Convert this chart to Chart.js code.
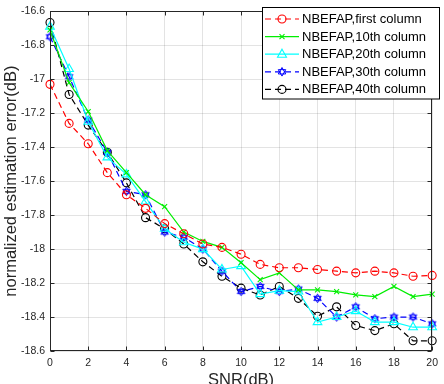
<!DOCTYPE html>
<html><head><meta charset="utf-8">
<script src="https://cdn.jsdelivr.net/npm/chart.js@4/dist/chart.umd.min.js"></script>
<style>html,body{margin:0;padding:0;background:#fff;}#wrap{width:444px;height:384px;}</style>
</head><body><div id="wrap"><canvas id="c" width="444" height="384"></canvas></div>
<script>
const snr = [0,1,2,3,4,5,6,7,8,9,10,11,12,13,14,15,16,17,18,19,20];
const xTicks = [0,2,4,6,8,10,12,14,16,18,20];
const yTicks = [-18.6,-18.4,-18.2,-18,-17.8,-17.6,-17.4,-17.2,-17,-16.8,-16.6];
const seriesNames = ['NBEFAP,first column','NBEFAP,10th column','NBEFAP,20th column','NBEFAP,30th column','NBEFAP,40th column'];
const firstCol = [-17.03,-17.26,-17.38,-17.55,-17.68,-17.76,-17.85,-17.91,-17.97,-17.99,-18.03,-18.09,-18.11,-18.11,-18.12,-18.13,-18.14,-18.13,-18.14,-18.16,-18.155];
const col10 = [-16.71,-17.02,-17.19,-17.42,-17.55,-17.68,-17.75,-17.90,-17.955,-17.99,-18.08,-18.18,-18.14,-18.24,-18.24,-18.25,-18.27,-18.28,-18.22,-18.28,-18.265];
const col20 = [-16.69,-16.94,-17.25,-17.46,-17.56,-17.72,-17.88,-17.96,-18.00,-18.12,-18.10,-18.265,-18.245,-18.25,-18.43,-18.40,-18.365,-18.43,-18.43,-18.46,-18.46];
const col30 = [-16.75,-16.985,-17.24,-17.43,-17.66,-17.68,-17.90,-17.93,-18.00,-18.13,-18.25,-18.22,-18.25,-18.235,-18.29,-18.40,-18.34,-18.41,-18.40,-18.40,-18.44];
const col40 = [-16.666,-17.09,-17.27,-17.43,-17.61,-17.815,-17.88,-17.97,-18.075,-18.16,-18.23,-18.27,-18.22,-18.29,-18.395,-18.34,-18.45,-18.48,-18.44,-18.54,-18.54];

const FONT = "'Liberation Sans', Arial, sans-serif";
const AX = '#262626';

function drawHex(g, cx, cy, r){
  for (let k=0;k<2;k++){
    g.beginPath();
    for (let i=0;i<3;i++){
      const a = -Math.PI/2 + k*Math.PI + i*2*Math.PI/3;
      const px = cx + r*Math.cos(a), py = cy + r*Math.sin(a);
      if(i===0) g.moveTo(px,py); else g.lineTo(px,py);
    }
    g.closePath(); g.stroke();
  }
}
function hexagramCanvas(color){
  const c = document.createElement('canvas'); c.width = 11; c.height = 11;
  const g = c.getContext('2d'); g.strokeStyle = color; g.lineWidth = 1;
  drawHex(g, 5.5, 5.5, 4.3);
  return c;
}
const hexImg = hexagramCanvas('#0000ff');

const pts = arr => snr.map((x,i)=>({x:x, y:arr[i]}));
const styles = [
  {color:'#ff0000', dash:[6,4], pt:'circle', r:4},
  {color:'#00ee00', dash:[], pt:'crossRot', r:3.5},
  {color:'#00ffff', dash:[], pt:'triangle', r:5},
  {color:'#0000ff', dash:[6,4], pt:hexImg, r:4.3},
  {color:'#000000', dash:[6,4], pt:'circle', r:4}
];
const values = [firstCol,col10,col20,col30,col40];
const datasets = values.map((v,i)=>({
  label: seriesNames[i], data: pts(v),
  borderColor: styles[i].color, borderWidth: 1.2, borderDash: styles[i].dash,
  pointStyle: styles[i].pt, pointRadius: styles[i].r, pointHoverRadius: styles[i].r,
  pointBorderColor: styles[i].color, pointBackgroundColor: 'rgba(0,0,0,0)', pointBorderWidth: 1.1,
  fill:false, tension:0, clip:false
}));

const boxPlugin = {
  id:'box',
  afterDatasetsDraw(chart){
    const {ctx, chartArea:ca, scales} = chart;
    ctx.save();
    ctx.strokeStyle = AX; ctx.lineWidth = 1;
    const L=Math.round(ca.left)+0.5, R=Math.round(ca.right)-0.5, T=Math.round(ca.top)+0.5, B=Math.round(ca.bottom)-0.5;
    ctx.strokeRect(L, T, R-L, B-T);
    const tl = 4;
    ctx.beginPath();
    xTicks.forEach(v=>{ const x=Math.round(scales.x.getPixelForValue(v))+0.5;
      ctx.moveTo(x,B); ctx.lineTo(x,B-tl); ctx.moveTo(x,T); ctx.lineTo(x,T+tl); });
    yTicks.forEach(v=>{ const y=Math.round(scales.y.getPixelForValue(v))+0.5;
      ctx.moveTo(L,y); ctx.lineTo(L+tl,y); ctx.moveTo(R,y); ctx.lineTo(R-tl,y); });
    ctx.stroke();
    ctx.restore();
  },
  afterDraw(chart){
    const ctx = chart.ctx;
    ctx.save();
    const lx=262.5, ly=7.5, lw=177, lh=91.5;
    ctx.fillStyle='#fff'; ctx.fillRect(lx,ly,lw,lh);
    ctx.strokeStyle='#000'; ctx.lineWidth=1; ctx.strokeRect(lx,ly,lw,lh);
    chart.data.datasets.forEach((ds,i)=>{
      const y = 19 + i*17.6;
      ctx.strokeStyle = ds.borderColor; ctx.lineWidth = 1.2;
      ctx.setLineDash(ds.borderDash||[]);
      ctx.beginPath(); ctx.moveTo(265,y); ctx.lineTo(299,y); ctx.stroke();
      ctx.setLineDash([]);
      const cx=282, st=ds.pointStyle, r=ds.pointRadius;
      ctx.lineWidth=1.1; ctx.strokeStyle=ds.borderColor;
      if (st==='circle'){ ctx.beginPath(); ctx.arc(cx,y,r,0,Math.PI*2); ctx.stroke(); }
      else if (st==='crossRot'){ ctx.beginPath(); ctx.moveTo(cx-2.5,y-2.5); ctx.lineTo(cx+2.5,y+2.5); ctx.moveTo(cx+2.5,y-2.5); ctx.lineTo(cx-2.5,y+2.5); ctx.stroke(); }
      else if (st==='triangle'){ ctx.beginPath(); ctx.moveTo(cx,y-5); ctx.lineTo(cx+4.5,y+3); ctx.lineTo(cx-4.5,y+3); ctx.closePath(); ctx.stroke(); }
      else { ctx.lineWidth=1; drawHex(ctx,cx,y,4.3); }
      ctx.fillStyle='#000'; ctx.font = "13px "+FONT; ctx.textBaseline='middle'; ctx.textAlign='left';
      ctx.fillText(ds.label, 302, y+0.5);
    });
    ctx.restore();
  }
};

new Chart(document.getElementById('c'), {
  type:'line',
  data:{ datasets },
  options:{
    responsive:false, animation:false, devicePixelRatio:1,
    layout:{ padding:{ left:0, right:4, top:7, bottom:0 } },
    plugins:{ legend:{display:false}, tooltip:{enabled:false} },
    elements:{ line:{ borderCapStyle:'butt' } },
    scales:{
      x:{ type:'linear', min:0, max:20,
        afterBuildTicks: s => { s.ticks = xTicks.map(v=>({value:v})); },
        afterFit: s => { s.height = 33; },
        grid:{ color:'rgba(38,38,38,0.13)', drawTicks:false, lineWidth:1 },
        border:{ display:false },
        ticks:{ color:AX, font:{ family:FONT, size:10.5 }, padding:6, maxRotation:0,
          callback: v => String(v) },
        title:{ display:true, text:'SNR(dB)', color:AX, font:{ family:FONT, size:16.5 }, padding:{ top:0, bottom:-6 } }
      },
      y:{ type:'linear', min:-18.6, max:-16.6,
        afterBuildTicks: s => { s.ticks = yTicks.map(v=>({value:v})); },
        afterFit: s => { s.width = 50; },
        grid:{ color:'rgba(38,38,38,0.13)', drawTicks:false, lineWidth:1 },
        border:{ display:false },
        ticks:{ color:AX, font:{ family:FONT, size:10.5 }, padding:5,
          callback: v => String(Number(v.toFixed(1))) },
        title:{ display:true, text:'normalized estimation error(dB)', color:AX, font:{ family:FONT, size:16.5 }, padding:{ top:2, bottom:0 } }
      }
    }
  },
  plugins:[boxPlugin]
});
</script></body></html>
